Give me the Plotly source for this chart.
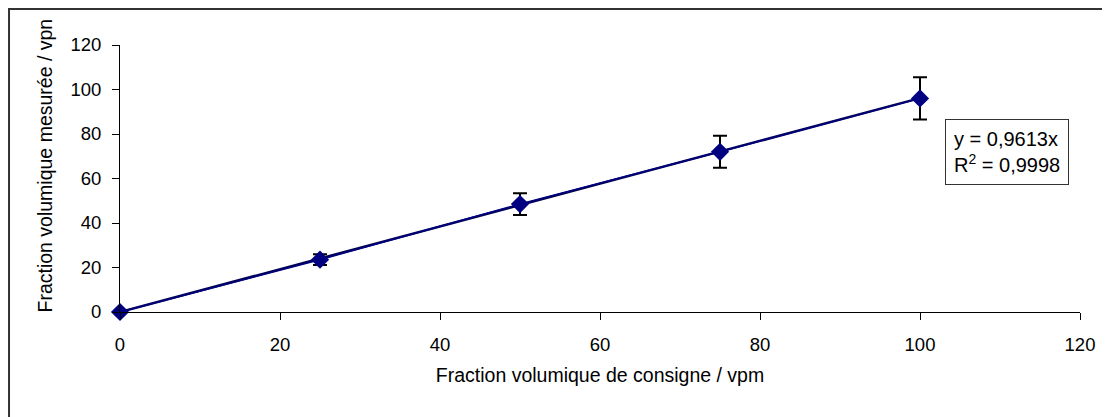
import plotly.graph_objects as go

# consigne (vpm) vs mesure (vpm) with error bars
consigne = [0, 25, 50, 75, 100]
mesure = [0, 23.5, 48.5, 72, 96]
erreur = [0, 2.4, 4.9, 7.2, 9.5]

# linear trend through origin (from the chart label)
pente = 0.9613
trend_x = [0, 100]
trend_y = [pente * v for v in trend_x]

xticks = [0, 20, 40, 60, 80, 100, 120]
yticks = [0, 20, 40, 60, 80, 100, 120]

navy = "#000080"
font = "Liberation Sans, Arial, sans-serif"

fig = go.Figure()

fig.add_trace(go.Scatter(
    x=trend_x, y=trend_y,
    mode="lines",
    line=dict(color="#000050", width=2.5),
    showlegend=False,
))

fig.add_trace(go.Scatter(
    x=consigne, y=mesure,
    mode="lines+markers",
    line=dict(color=navy, width=1.5),
    marker=dict(symbol="diamond", size=14, color=navy),
    error_y=dict(type="data", array=erreur, visible=True,
                 color="black", thickness=2, width=7),
    cliponaxis=False,
    showlegend=False,
))

# page body has an 8px margin, so the figure is shrunk by that amount
fig.update_layout(
    width=1102, height=409,
    margin=dict(l=112, r=30, t=37, b=105),
    paper_bgcolor="white", plot_bgcolor="white",
    font=dict(family=font, size=18.5, color="black"),
    xaxis=dict(
        range=[0, 120], tickvals=xticks, showgrid=False, zeroline=False,
        showline=True, linecolor="black", linewidth=1,
        ticks="outside", ticklen=7, tickcolor="black",
        ticklabelstandoff=9,
        title=dict(text="Fraction volumique de consigne / vpm",
                   font=dict(size=19.5), standoff=14),
    ),
    yaxis=dict(
        range=[0, 120], tickvals=yticks, showgrid=False, zeroline=False,
        showline=True, linecolor="black", linewidth=1,
        ticks="outside", ticklen=7, tickcolor="black",
        ticklabelstandoff=7,
    ),
    shapes=[dict(
        type="rect", xref="paper", yref="paper",
        x0=-0.1156, x1=1.2, y0=-0.6, y1=1.1348,
        line=dict(color="#333333", width=2), layer="below",
    )],
    annotations=[
        dict(
            xref="paper", yref="paper", x=0.924, y=0.60,
            xanchor="center", yanchor="middle",
            text="y = 0,9613x<br>R<sup>2</sup> = 0,9998",
            showarrow=False, align="left",
            font=dict(size=20),
            bordercolor="#333333", borderwidth=1, borderpad=8,
            bgcolor="white",
        ),
        # y axis title sits a bit above the plot centre, as in the original
        dict(
            xref="paper", yref="paper", x=-0.0781, y=0.5487,
            xanchor="center", yanchor="middle", textangle=-90,
            text="Fraction volumique mesurée / vpn",
            showarrow=False, font=dict(size=19.5),
        ),
    ],
)

fig.write_html("out.html")
